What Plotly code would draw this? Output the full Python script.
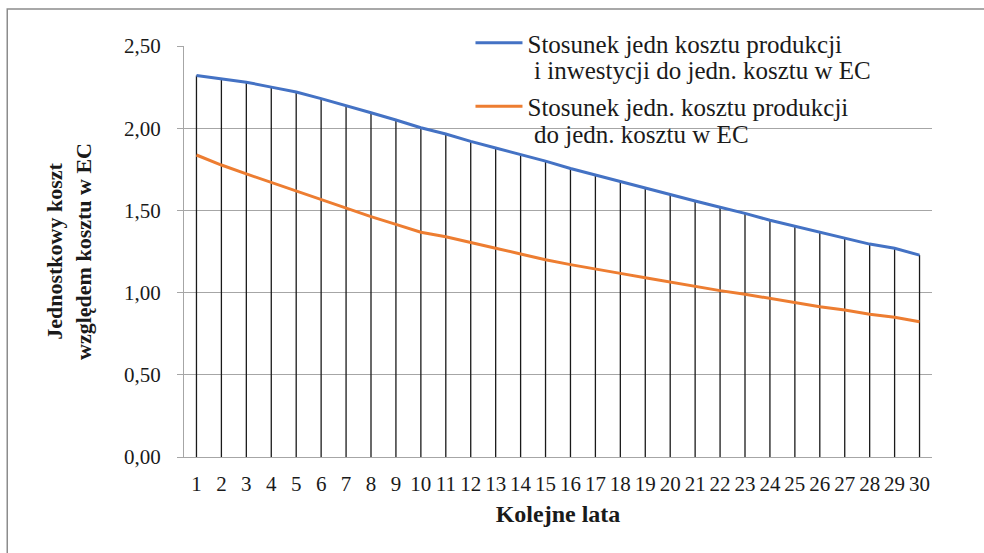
import plotly.graph_objects as go

# Kolejne lata eksploatacji
years = list(range(1, 31))

# Stosunek jedn. kosztu produkcji i inwestycji do jedn. kosztu w EC
ratio_prod_inv = [2.32, 2.30, 2.28, 2.25, 2.22, 2.18, 2.135, 2.094, 2.05, 2.003,
                  1.965, 1.92, 1.88, 1.84, 1.80, 1.755, 1.715, 1.675, 1.634, 1.594,
                  1.557, 1.519, 1.482, 1.44, 1.404, 1.364, 1.33, 1.295, 1.27, 1.228]

# Stosunek jedn. kosztu produkcji do jedn. kosztu w EC
ratio_prod = [1.837, 1.776, 1.722, 1.67, 1.614, 1.563, 1.513, 1.462, 1.415, 1.367,
              1.34, 1.303, 1.27, 1.235, 1.20, 1.17, 1.145, 1.117, 1.09, 1.063,
              1.036, 1.012, 0.99, 0.965, 0.938, 0.914, 0.894, 0.868, 0.85, 0.823]

y_ticks = [0, 0.5, 1.0, 1.5, 2.0, 2.5]

# legend labels: first line goes into the legend entry, the rest is set
# underneath with tighter line spacing than the legend allows
name_a = ["Stosunek jedn kosztu produkcji", "i inwestycji do jedn. kosztu w EC"]
name_b = ["Stosunek jedn. kosztu produkcji", "do jedn. kosztu w EC"]

FONT = "Liberation Serif"

# drop lines from the upper series down to the category axis
drop_x, drop_y = [], []
for x, v in zip(years, ratio_prod_inv):
    drop_x += [x, x, None]
    drop_y += [0, v, None]

fig = go.Figure()
fig.add_trace(go.Scatter(x=drop_x, y=drop_y, mode="lines",
                         line=dict(color="#1a1a1a", width=1.3),
                         showlegend=False, hoverinfo="skip"))
fig.add_trace(go.Scatter(x=years, y=ratio_prod_inv, mode="lines", name=name_a[0],
                         legendgroup="a",
                         line=dict(color="#4472C4", width=3)))
fig.add_trace(go.Scatter(x=years, y=ratio_prod, mode="lines", name=name_b[0],
                         legendgroup="b",
                         line=dict(color="#ED7D31", width=3)))

# continuation lines of the legend labels
for text, ypos in [(name_a[1], 0.9416), (name_b[1], 0.7835)]:
    fig.add_annotation(text=text, xref="paper", yref="paper",
                       x=0.4659, y=ypos, xanchor="left", yanchor="middle",
                       showarrow=False,
                       font=dict(family=FONT, size=25, color="#1a1a1a"))

# outer chart frame (open on the right and bottom edges)
fig.add_shape(type="rect", xref="paper", yref="paper",
              x0=-0.2363, x1=1.5, y0=-0.5, y1=1.090,
              line=dict(color="#8c8c8c", width=1.5), fillcolor="rgba(0,0,0,0)",
              layer="below")

fig.update_layout(
    width=984, height=553,
    margin=dict(l=184, r=52, t=46, b=96),
    paper_bgcolor="white", plot_bgcolor="white",
    separators=", ",
    font=dict(family=FONT, size=22, color="#1a1a1a"),
    legend=dict(x=0.383, y=1.063, xanchor="left", yanchor="top",
                bgcolor="rgba(0,0,0,0)", valign="middle",
                traceorder="grouped", tracegroupgap=28,
                font=dict(family=FONT, size=25, color="#1a1a1a"),
                itemwidth=47),
    xaxis=dict(range=[0.5, 30.5], tickmode="array", tickvals=years,
               ticktext=[str(y) for y in years],
               showgrid=False, zeroline=False,
               showline=True, linecolor="#a6a6a6", linewidth=1.3,
               ticks="", ticklabelstandoff=8,
               tickfont=dict(family=FONT, size=21),
               title=dict(text="<b>Kolejne lata</b>", standoff=9,
                          font=dict(family=FONT, size=24))),
    yaxis=dict(range=[0, 2.5], tickmode="array", tickvals=y_ticks,
               tickformat=".2f",
               showgrid=True, gridcolor="#a6a6a6", gridwidth=1.2,
               zeroline=False,
               showline=True, linecolor="#a6a6a6", linewidth=1.3,
               ticks="outside", ticklen=6, tickcolor="#a6a6a6",
               ticklabelstandoff=12,
               tickfont=dict(family=FONT, size=21),
               title=dict(text="<b>Jednostkowy koszt<br>względem kosztu w EC</b>",
                          standoff=26,
                          font=dict(family=FONT, size=22))),
)

fig.write_html("out.html")
